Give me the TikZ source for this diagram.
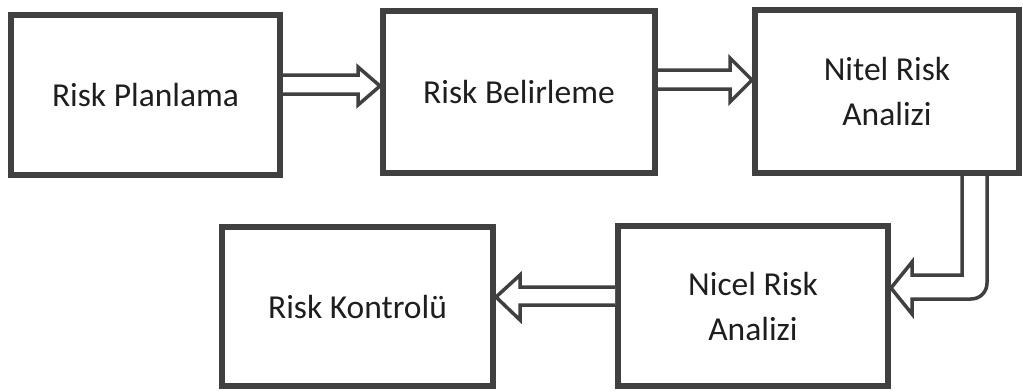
\documentclass[tikz,border=0pt]{standalone}
\usepackage{fontspec}
\setmainfont{Carlito}
\definecolor{lineg}{HTML}{404040}
\definecolor{txt}{HTML}{1E1E1E}
\tikzset{
  box/.style={draw=lineg, line width=6pt, fill=white, rectangle, align=center,
    text=txt, font=\fontsize{33.5}{45}\selectfont, inner sep=0pt},
  blockarrow/.style={draw=lineg, line width=3.5pt, fill=white, line join=miter}
}
\begin{document}
\begin{tikzpicture}[x=1pt,y=-1pt]
\useasboundingbox (0,0) rectangle (1023,391);
\node[box, minimum width=269pt, minimum height=160pt] (b1) at (145.5,95) {Risk Planlama};
\node[box, minimum width=272pt, minimum height=162pt] (b2) at (519,92) {Risk Belirleme};
\node[box, minimum width=264pt, minimum height=163pt] (b3) at (887,91.5) {Nitel Risk\\Analizi};
\node[box, minimum width=270pt, minimum height=160pt] (b4) at (753,306) {Nicel Risk\\Analizi};
\node[box, minimum width=271pt, minimum height=159pt] (b5) at (357.5,306.5) {Risk Kontrolü};
% arrow 1
\draw[blockarrow] (b1.east |- 0,75) -- (358,75) -- (358,67) -- (b2.west |- 0,86)
  -- (358,105) -- (358,94) -- (b1.east |- 0,94);
% arrow 2
\draw[blockarrow] (b2.east |- 0,70) -- (730,70) -- (730,58) -- (b3.west |- 0,80)
  -- (730,102) -- (730,89) -- (b2.east |- 0,89);
% arrow 3 (bent)
\draw[blockarrow] (962,0 |- b3.south) -- (962,275) -- (912,275) -- (912,262)
  -- (b4.east |- 0,288) -- (912,314) -- (912,299) -- (971,299)
  .. controls (980,299) and (987,292) .. (987,283) -- (987,0 |- b3.south);
% arrow 4
\draw[blockarrow] (b4.west |- 0,287) -- (520,287) -- (520,275) -- (b5.east |- 0,297)
  -- (520,320) -- (520,305) -- (b4.west |- 0,305);
\end{tikzpicture}
\end{document}
